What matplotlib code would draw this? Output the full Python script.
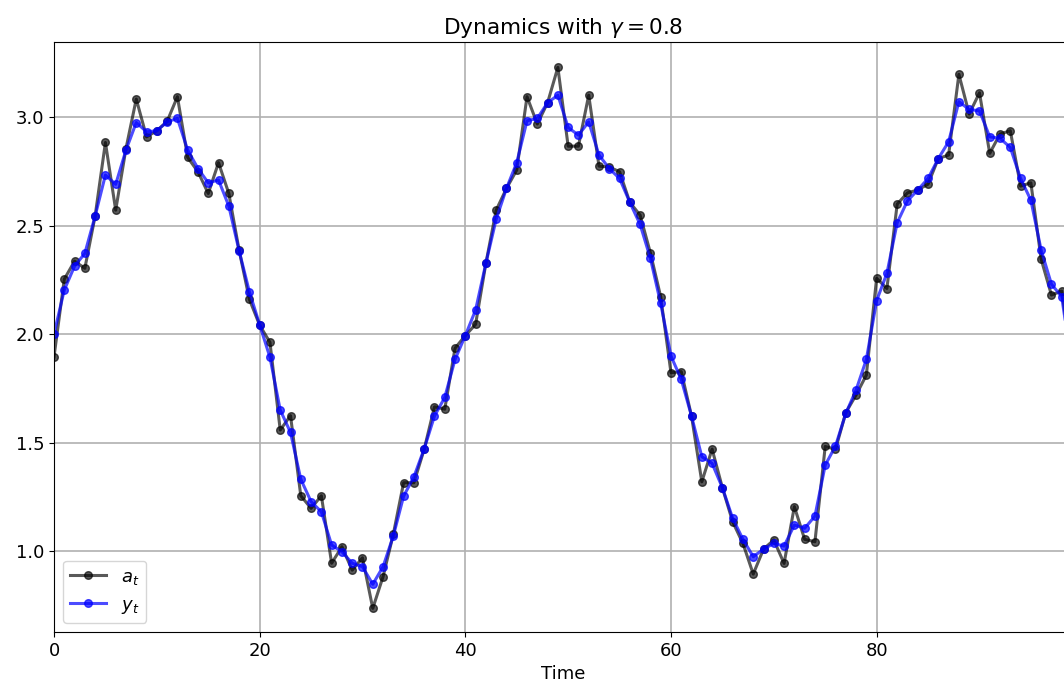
import numpy as np
import matplotlib
matplotlib.use("Agg")
import matplotlib.pyplot as plt

gamma = 0.8

a_t = [1.895, 2.253, 2.336, 2.303, 2.544, 2.883, 2.571, 2.855, 3.083, 2.909,
       2.937, 2.980, 3.094, 2.814, 2.748, 2.648, 2.790, 2.648, 2.387, 2.160,
       2.041, 1.962, 1.558, 1.624, 1.255, 1.197, 1.255, 0.944, 1.020, 0.912,
       0.969, 0.736, 0.882, 1.078, 1.315, 1.315, 1.469, 1.665, 1.654, 1.935,
       1.993, 2.045, 2.326, 2.571, 2.671, 2.756, 3.094, 2.968, 3.066, 3.229,
       2.866, 2.866, 3.101, 2.774, 2.770, 2.748, 2.607, 2.548, 2.374, 2.172,
       1.822, 1.827, 1.622, 1.319, 1.470, 1.292, 1.135, 1.035, 0.894, 1.009,
       1.051, 0.943, 1.205, 1.054, 1.043, 1.482, 1.469, 1.638, 1.719, 1.811,
       2.257, 2.210, 2.599, 2.651, 2.664, 2.691, 2.809, 2.825, 3.197, 3.014,
       3.112, 2.833, 2.922, 2.937, 2.682, 2.697, 2.345, 2.180, 2.198, 1.880]

# smoothed dynamics y_t
y_t = [2.000, 2.203, 2.313, 2.372, 2.544, 2.733, 2.690, 2.848, 2.975, 2.932,
       2.937, 2.978, 2.994, 2.848, 2.763, 2.697, 2.710, 2.590, 2.384, 2.195,
       2.043, 1.893, 1.650, 1.547, 1.331, 1.228, 1.181, 1.028, 0.997, 0.944,
       0.928, 0.847, 0.928, 1.070, 1.253, 1.342, 1.471, 1.622, 1.708, 1.883,
       1.993, 2.111, 2.326, 2.529, 2.671, 2.790, 2.983, 2.994, 3.066, 3.101,
       2.952, 2.917, 2.978, 2.825, 2.763, 2.717, 2.607, 2.505, 2.349, 2.141,
       1.899, 1.791, 1.622, 1.435, 1.404, 1.292, 1.151, 1.054, 0.974, 1.009,
       1.035, 1.023, 1.120, 1.105, 1.161, 1.396, 1.484, 1.634, 1.742, 1.883,
       2.154, 2.280, 2.513, 2.614, 2.664, 2.717, 2.809, 2.886, 3.071, 3.035,
       3.029, 2.909, 2.902, 2.860, 2.717, 2.617, 2.387, 2.230, 2.172, 1.850]

t = np.arange(len(a_t))

plt.rcParams["font.size"] = 13

fig = plt.figure(figsize=(10.64, 6.9), dpi=100)
# axes run a little past the right edge, like the cropped original
ax = fig.add_axes([54 / 1064, 58 / 690, 1018 / 1064, 590 / 690])

ax.plot(t, a_t, "o-", color="black", alpha=0.65, lw=2.2, ms=5.5, label="$a_t$")
ax.plot(t, y_t, "o-", color="blue", alpha=0.7, lw=2.2, ms=5.5, label="$y_t$")

ax.set_xlim(0, 99)
ax.set_ylim(0.627, 3.346)
ax.set_xticks([0, 20, 40, 60, 80])
ax.set_yticks([1.0, 1.5, 2.0, 2.5, 3.0])
ax.grid(True, color="#b0b0b0", lw=1.2)
ax.set_axisbelow(True)

ax.set_title(r"Dynamics with $\gamma = %s$" % gamma, fontsize=15.6)
ax.set_xlabel("Time")
ax.legend(loc="lower left")

fig.savefig("out.png", dpi=100)
